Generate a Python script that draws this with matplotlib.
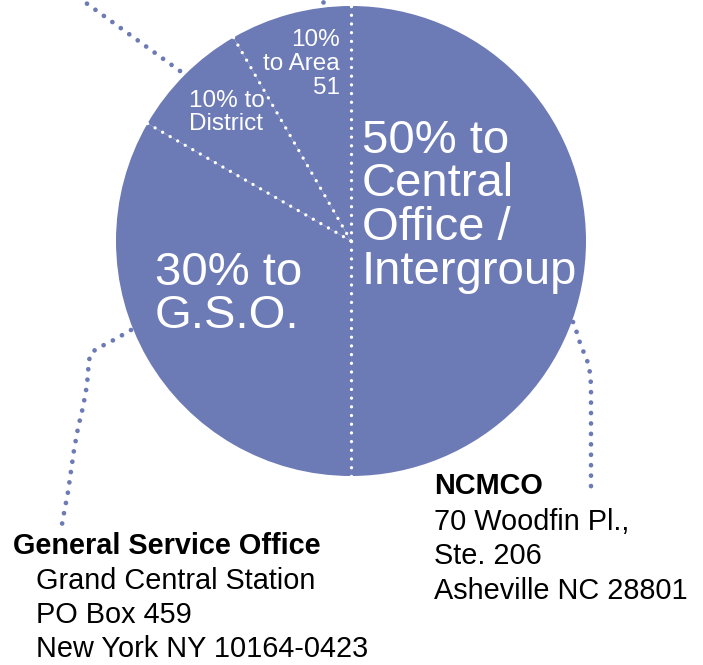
import numpy as np
import matplotlib
matplotlib.use('Agg')
import matplotlib.pyplot as plt

W, H = 703, 665

# slices clockwise from 12 o'clock; sweep (degrees)
slice_names = ['Central Office / Intergroup', 'G.S.O.', 'District', 'Area 51']
slice_sizes = [180, 120, 30, 30]
slice_labels = [
    ['50% to', 'Central', 'Office /', 'Intergroup'],
    ['30% to', 'G.S.O.'],
    ['10% to', 'District'],
    ['10%', 'to Area', '51'],
]

gso_address = ['General Service Office', 'Grand Central Station',
               'PO Box 459', 'New York NY 10164-0423']
ncmco_address = ['NCMCO', '70 Woodfin Pl.,', 'Ste. 206', 'Asheville NC 28801']

BLUE = '#6c7ab6'
CX, CY, R = 351, 241, 235   # pie centre and radius, pixels from top-left

plt.rcParams['font.family'] = ['Liberation Sans', 'DejaVu Sans']

fig = plt.figure(figsize=(W / 100, H / 100), dpi=100)
ax = fig.add_axes([0, 0, 1, 1])


def Y(y):
    # pixel row -> data y
    return H - y


ax.pie(slice_sizes, colors=[BLUE] * len(slice_sizes), startangle=90,
       counterclock=False, center=(CX, Y(CY)), radius=R,
       wedgeprops={'linewidth': 0})
ax.set_xlim(0, W)
ax.set_ylim(0, H)
ax.set_aspect('equal')
ax.axis('off')

# white dotted lines on every slice boundary
bounds = 90 - np.cumsum([0] + slice_sizes[:-1])
for a in np.radians(bounds):
    ax.plot([CX, CX + R * np.cos(a)], [Y(CY), Y(CY) + R * np.sin(a)],
            color='white', lw=2.4, linestyle=(0, (0.01, 2.6)),
            dash_capstyle='round')

# blue dotted leader lines
leaders = [
    [(180, 71), (75, -5)],
    [(323, 1.5), (323, -10)],
    [(131, 330), (119, 337), (110, 342), (100, 347), (92, 352), (89, 360),
     (87, 385), (83, 407), (78, 428), (74, 450), (71, 471), (68, 492),
     (64, 513), (61, 530)],
    [(573, 322), (577, 333), (580, 343), (584, 353), (588, 363), (590, 373),
     (591, 385), (591, 487)],
]
for pts in leaders:
    xs = [p[0] for p in pts]
    ys = [Y(p[1]) for p in pts]
    ax.plot(xs, ys, color=BLUE, lw=3.4, linestyle=(0, (0.01, 2.2)),
            dash_capstyle='round', clip_on=False)


def block(x, y0, lines, step, **kw):
    for i, s in enumerate(lines):
        ax.text(x, Y(y0 + i * step), s, va='baseline', **kw)


# slice labels
block(362, 153, slice_labels[0], 43.5, color='white', fontsize=34)
block(155, 285, slice_labels[1], 43.5, color='white', fontsize=34)
block(189, 107, slice_labels[2], 23, color='white', fontsize=17.5)
block(340, 46, slice_labels[3], 24, color='white', fontsize=17.5, ha='right')

# addresses
ax.text(13, Y(554), gso_address[0], va='baseline', fontsize=20.8,
        fontweight='bold', color='black')
block(36, 589, gso_address[1:], 34, fontsize=20.8, color='black')
ax.text(434, Y(494), ncmco_address[0], va='baseline', fontsize=20.8,
        fontweight='bold', color='black')
block(434, 530, ncmco_address[1:], 34.5, fontsize=20.8, color='black')

fig.savefig('out.png', dpi=100)
